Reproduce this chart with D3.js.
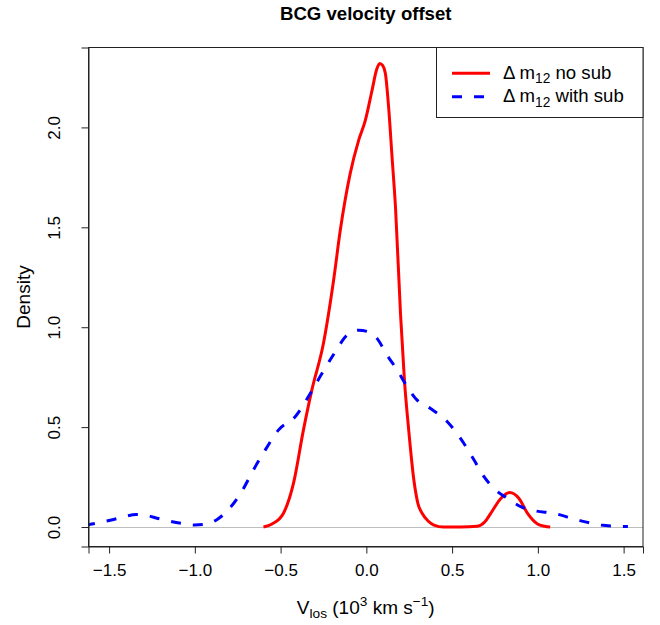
<!DOCTYPE html>
<html><head><meta charset="utf-8">
<script src="https://cdn.jsdelivr.net/npm/d3@7"></script>
<style>body{margin:0;background:#fff}svg{display:block;font-family:"Liberation Sans",Arial,sans-serif}</style>
</head><body><svg id="c" width="660" height="625"></svg>
<script>
const title = "BCG velocity offset";
const xTicks = [-1.5, -1.0, -0.5, 0.0, 0.5, 1.0, 1.5];
const yTicks = [0.0, 0.5, 1.0, 1.5, 2.0];
const seriesNames = ["no sub", "with sub"];
// red: Δm12 no sub
const redV = [-0.60,-0.55,-0.484,-0.425,-0.367,-0.318,-0.25,-0.191,-0.152,-0.094,-0.045,-0.006,0.033,0.060,0.078,0.095,0.111,0.13,0.15,0.17,0.199,0.222,0.247,0.277,0.30,0.326,0.36,0.394,0.45,0.55,0.647,0.69,0.725,0.784,0.836,0.89,0.94,0.998,1.04,1.072];
const redD = [0.0,0.015,0.068,0.218,0.485,0.685,0.92,1.235,1.485,1.77,1.935,2.035,2.185,2.29,2.32,2.31,2.27,2.10,1.85,1.60,1.07,0.735,0.485,0.235,0.12,0.068,0.03,0.01,0.0,0.0,0.004,0.025,0.068,0.143,0.173,0.143,0.068,0.015,0.004,0.0];
// blue: Δm12 with sub
const blueV = [-1.64,-1.60,-1.487,-1.41,-1.341,-1.28,-1.215,-1.078,-1.0,-0.932,-0.87,-0.815,-0.727,-0.659,-0.59,-0.513,-0.415,-0.327,-0.259,-0.181,-0.113,-0.045,0.013,0.063,0.121,0.18,0.238,0.296,0.374,0.472,0.569,0.628,0.686,0.744,0.823,0.9,0.978,1.095,1.232,1.368,1.45,1.525];
const blueD = [0.008,0.015,0.035,0.052,0.063,0.058,0.043,0.018,0.01,0.015,0.038,0.077,0.177,0.285,0.385,0.485,0.552,0.668,0.768,0.877,0.96,0.985,0.977,0.943,0.86,0.785,0.702,0.635,0.593,0.527,0.418,0.335,0.252,0.193,0.143,0.102,0.082,0.068,0.035,0.01,0.004,0.002];

const svg = d3.select("#c");
const L = 88.5, R = 643, T = 47.5, B = 546.5;
const x = d3.scaleLinear().domain([-1.62, 1.613]).range([L, R]);
const y = d3.scaleLinear().domain([-0.0975, 2.4]).range([B, T]);
const fsTick = 17, fsLab = 19, fsLeg = 18.6;

svg.append("defs").append("clipPath").attr("id","clip").append("rect")
  .attr("x",L).attr("y",T).attr("width",R-L).attr("height",B-T);

// zero line
svg.append("line").attr("x1",L).attr("x2",R).attr("y1",Math.round(y(0))+0.5).attr("y2",Math.round(y(0))+0.5)
  .attr("stroke","#bebebe").attr("stroke-width",1);

const line = d3.line().curve(d3.curveMonotoneX);
const g = svg.append("g").attr("clip-path","url(#clip)");
g.append("path").attr("d", line(redV.map((v,i)=>[x(v), y(redD[i])])))
  .attr("fill","none").attr("stroke","#ff0000").attr("stroke-width",3);
g.append("path").attr("d", line(blueV.map((v,i)=>[x(v), y(blueD[i])])))
  .attr("fill","none").attr("stroke","#0000ff").attr("stroke-width",3)
  .attr("stroke-dasharray","10,12");

// box
svg.append("rect").attr("x",L).attr("y",T).attr("width",R-L).attr("height",B-T)
  .attr("fill","none").attr("stroke","#222").attr("stroke-width",1);

// x axis
const xa = svg.append("g").attr("transform",`translate(0,${B})`)
  .call(d3.axisBottom(x).tickValues(xTicks).tickSizeOuter(0).tickSize(7).tickPadding(22.5)
    .tickFormat(d => d3.format(".1f")(d).replace("-", "\u2212")));
xa.selectAll("text").attr("font-size",fsTick).attr("font-family","Liberation Sans, Arial, sans-serif")
  .attr("fill","#000").attr("dy",null);
xa.selectAll("line,path").attr("stroke","#222");
// y axis
const ya = svg.append("g").attr("transform",`translate(${L},0)`)
  .call(d3.axisLeft(y).tickValues(yTicks).tickSizeOuter(0).tickSize(7).tickFormat(d3.format(".1f")));
ya.selectAll("line,path").attr("stroke","#222");
ya.selectAll("text").remove();
ya.selectAll(".tick").append("text")
  .attr("transform","translate(-28.5,0) rotate(-90)")
  .attr("text-anchor","middle").attr("fill","#000").attr("font-size",fsTick)
  .text(d => d3.format(".1f")(d));

// title
svg.append("text").attr("x",(L+R)/2).attr("y",19.5).attr("text-anchor","middle")
  .attr("font-weight","bold").attr("font-size",18.6).text(title);
// y label
svg.append("text").attr("transform",`translate(29.5,${(T+B)/2}) rotate(-90)`).attr("text-anchor","middle")
  .attr("font-size",fsLab).text("Density");
// x label
const xl = svg.append("text").attr("x",(L+R)/2).attr("y",613.5).attr("text-anchor","middle").attr("font-size",fsLab);
xl.append("tspan").text("V");
xl.append("tspan").attr("font-size",fsLab*0.72).attr("dy",4.5).text("los");
xl.append("tspan").attr("dy",-4.5).text(" (10");
xl.append("tspan").attr("font-size",fsLab*0.72).attr("dy",-8).text("3");
xl.append("tspan").attr("dy",8).text(" km s");
xl.append("tspan").attr("font-size",fsLab*0.72).attr("dy",-8).text("\u22121");
xl.append("tspan").attr("dy",8).text(")");

// legend
const lg = svg.append("g");
lg.append("rect").attr("x",436.5).attr("y",T).attr("width",R-436.5).attr("height",70)
  .attr("fill","#fff").attr("stroke","#222").attr("stroke-width",1);
const colors = ["#ff0000","#0000ff"];
seriesNames.forEach((s,i)=>{
  const yy = 73.3 + i*23.4;
  const ln = lg.append("line").attr("x1",452).attr("x2",490).attr("y1",yy).attr("y2",yy)
    .attr("stroke",colors[i]).attr("stroke-width",3);
  if(i===1) ln.attr("stroke-dasharray","10,12").attr("x1",452);
  const t = lg.append("text").attr("x",503).attr("y",yy+5.3).attr("font-size",fsLeg);
  t.append("tspan").text("\u0394 m");
  t.append("tspan").attr("font-size",fsLeg*0.74).attr("dy",4.5).text("12");
  t.append("tspan").attr("dy",-4.5).text(" " + s);
});
</script></body></html>
